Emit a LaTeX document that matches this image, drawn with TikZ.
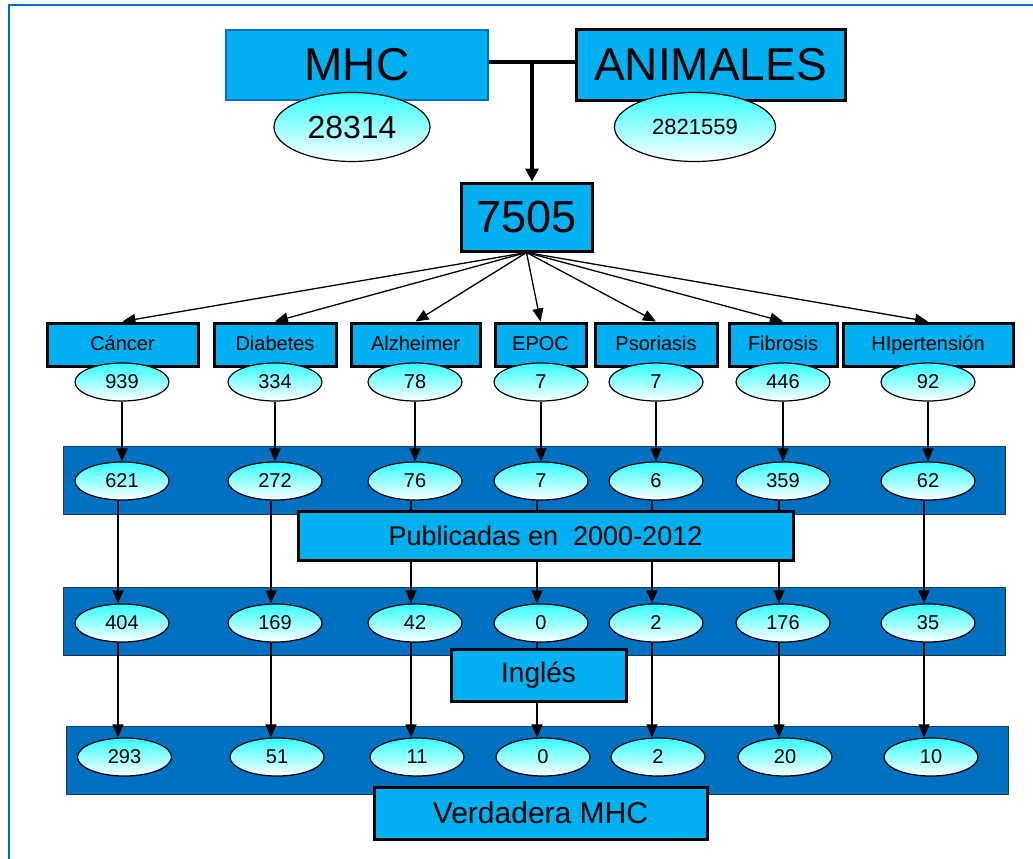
\documentclass[tikz,border=0pt]{standalone}
\usepackage{fontspec}
\setmainfont{Liberation Sans}
\usetikzlibrary{positioning,arrows.meta,shapes.geometric}
\definecolor{celeste}{HTML}{00B0F0}
\definecolor{azulOscuro}{HTML}{0070C0}
\definecolor{cian}{HTML}{33FFFF}
\definecolor{bordeBanda}{HTML}{1F3A5F}
\newcommand{\tam}[1]{\fontsize{#1}{#1}\selectfont}

\begin{document}
\begin{tikzpicture}[
        x=1pt, y=-1pt,
        caja/.style={rectangle, fill=celeste, draw=black, line width=3pt, inner sep=0pt, align=center},
        cajaMHC/.style={caja, draw=azulOscuro, line width=1.5pt, minimum width=262pt, minimum height=70pt, font=\tam{46}},
        cajaGrande/.style={caja, minimum height=70pt, font=\tam{46}},
        cajaEnf/.style={caja, minimum height=43pt, font=\tam{20}, text height=14.5pt, text depth=3pt},
        cajaFiltro/.style={caja, minimum height=52pt},
        elipse/.style={ellipse, draw=black, line width=1.2pt, top color=cian, bottom color=white, inner sep=0pt, minimum width=94pt, minimum height=38pt, font=\tam{20}},
        banda/.style={rectangle, fill=azulOscuro, draw=bordeBanda, line width=1pt, minimum width=942pt, minimum height=68pt},
        flecha/.style={-{Triangle[length=13pt, width=11pt]}, line width=1.3pt},
        marco/.style={draw=azulOscuro, line width=2.5pt}
    ]
        \useasboundingbox (0,0) rectangle (1033,859);
        \draw[marco] (9,859) -- (9,5) -- (1033,5);

        % Busqueda inicial
        \node[cajaMHC] (mhc) at (357,65) {MHC};
        \node[cajaGrande, minimum width=269pt] (animales) at (710.5,65) {ANIMALES};
        \node[elipse, minimum width=156pt, minimum height=69pt, font=\tam{32}] (nMHC) at (352,127) {28314};
        \node[elipse, minimum width=161pt, minimum height=69pt, font=\tam{22}] (nAnimales) at (695,127) {2821559};

        % Cruce de ambas busquedas
        \coordinate (cruce) at (532,62);
        \draw[line width=4pt] (mhc.east |- cruce) -- (animales.west |- cruce);
        \node[cajaGrande, minimum width=131pt, minimum height=68pt, font=\tam{45}] (total) at (526.5,217) {7505};
        \draw[-{Triangle[length=13pt, width=13pt]}, line width=4pt] (cruce) -- (cruce |- total.north);

        % Enfermedades
        \node[cajaEnf, minimum width=151pt] (cancer) at (122.5,344.5) {Cáncer};
        \node[cajaEnf, minimum width=122pt] (diabetes) at (275,344.5) {Diabetes};
        \node[cajaEnf, minimum width=129pt] (alzheimer) at (415.5,344.5) {Alzheimer};
        \node[cajaEnf, minimum width=91pt] (epoc) at (540.5,344.5) {EPOC};
        \node[cajaEnf, minimum width=122pt] (psoriasis) at (656,344.5) {Psoriasis};
        \node[cajaEnf, minimum width=108pt] (fibrosis) at (783,344.5) {Fibrosis};
        \node[cajaEnf, minimum width=170pt] (hipertension) at (928,344.5) {HIpertensión};

        \draw[flecha] (total.south) -- (cancer.north);
        \draw[flecha] (total.south) -- (diabetes.north);
        \draw[flecha] (total.south) -- (alzheimer.north);
        \draw[flecha] (total.south) -- (epoc.north);
        \draw[flecha] (total.south) -- (psoriasis.north);
        \draw[flecha] (total.south) -- (fibrosis.north);
        \draw[flecha] (total.south) -- (hipertension.north);

        % Bandas de filtros (fondo)
        \node[banda] (bandaPub) at (534,480) {};
        \node[banda] (bandaIng) at (534.5,621.5) {};
        \node[banda] (bandaVer) at (537,760.5) {};

        % Totales por enfermedad
        \node[elipse] (cancerTot) at (122,382) {939};
        \node[elipse] (diabetesTot) at (275,382) {334};
        \node[elipse] (alzheimerTot) at (415,382) {78};
        \node[elipse] (epocTot) at (541,382) {7};
        \node[elipse] (psoriasisTot) at (656,382) {7};
        \node[elipse] (fibrosisTot) at (783,382) {446};
        \node[elipse] (hipertensionTot) at (928,382) {92};

        % Publicadas en 2000-2012
        \node[elipse] (cancerPub) at (122,481) {621};
        \node[elipse] (diabetesPub) at (275,481) {272};
        \node[elipse] (alzheimerPub) at (415,481) {76};
        \node[elipse] (epocPub) at (541,481) {7};
        \node[elipse] (psoriasisPub) at (656,481) {6};
        \node[elipse] (fibrosisPub) at (783,481) {359};
        \node[elipse] (hipertensionPub) at (928,481) {62};

        % Ingles
        \node[elipse] (cancerIng) at (122,623) {404};
        \node[elipse] (diabetesIng) at (275,623) {169};
        \node[elipse] (alzheimerIng) at (415,623) {42};
        \node[elipse] (epocIng) at (541,623) {0};
        \node[elipse] (psoriasisIng) at (656,623) {2};
        \node[elipse] (fibrosisIng) at (783,623) {176};
        \node[elipse] (hipertensionIng) at (928,623) {35};

        % Verdadera MHC
        \node[elipse] (cancerVer) at (124.5,757) {293};
        \node[elipse] (diabetesVer) at (277,757) {51};
        \node[elipse] (alzheimerVer) at (417,757) {11};
        \node[elipse] (epocVer) at (543,757) {0};
        \node[elipse] (psoriasisVer) at (658,757) {2};
        \node[elipse] (fibrosisVer) at (785,757) {20};
        \node[elipse] (hipertensionVer) at (931,757) {10};

        % Conexiones entre filtros
        \draw[flecha] (cancerTot) -- (cancerPub);
        \draw[flecha] (diabetesTot) -- (diabetesPub);
        \draw[flecha] (alzheimerTot) -- (alzheimerPub);
        \draw[flecha] (epocTot) -- (epocPub);
        \draw[flecha] (psoriasisTot) -- (psoriasisPub);
        \draw[flecha] (fibrosisTot) -- (fibrosisPub);
        \draw[flecha] (hipertensionTot) -- (hipertensionPub);

        \draw[flecha] ([xshift=-4pt]cancerPub.south) -- ([xshift=-4pt]cancerIng.north);
        \draw[flecha] ([xshift=-4pt]diabetesPub.south) -- ([xshift=-4pt]diabetesIng.north);
        \draw[flecha] ([xshift=-4pt]alzheimerPub.south) -- ([xshift=-4pt]alzheimerIng.north);
        \draw[flecha] ([xshift=-4pt]epocPub.south) -- ([xshift=-4pt]epocIng.north);
        \draw[flecha] ([xshift=-4pt]psoriasisPub.south) -- ([xshift=-4pt]psoriasisIng.north);
        \draw[flecha] ([xshift=-4pt]fibrosisPub.south) -- ([xshift=-4pt]fibrosisIng.north);
        \draw[flecha] ([xshift=-4pt]hipertensionPub.south) -- ([xshift=-4pt]hipertensionIng.north);

        \draw[flecha] ([xshift=-4pt]cancerIng.south) -- ([xshift=-4pt]cancerIng.south |- cancerVer.north);
        \draw[flecha] ([xshift=-4pt]diabetesIng.south) -- ([xshift=-4pt]diabetesIng.south |- diabetesVer.north);
        \draw[flecha] ([xshift=-4pt]alzheimerIng.south) -- ([xshift=-4pt]alzheimerIng.south |- alzheimerVer.north);
        \draw[flecha] ([xshift=-4pt]epocIng.south) -- ([xshift=-4pt]epocIng.south |- epocVer.north);
        \draw[flecha] ([xshift=-4pt]psoriasisIng.south) -- ([xshift=-4pt]psoriasisIng.south |- psoriasisVer.north);
        \draw[flecha] ([xshift=-4pt]fibrosisIng.south) -- ([xshift=-4pt]fibrosisIng.south |- fibrosisVer.north);
        \draw[flecha] ([xshift=-4pt]hipertensionIng.south) -- ([xshift=-4pt]hipertensionIng.south |- hipertensionVer.north);

        % Etiquetas de los filtros
        \node[cajaFiltro, minimum width=495pt, minimum height=49pt, font=\tam{27}] (publicadas) at (545.5,535.5) {Publicadas en\ \ 2000-2012};
        \node[cajaFiltro, minimum width=175pt, font=\tam{28}, text height=20pt, text depth=6pt] (ingles) at (538.5,675) {Inglés};
        \node[cajaFiltro, minimum width=333pt, font=\tam{30}] (verdadera) at (540.5,813) {Verdadera MHC};
    \end{tikzpicture}
\end{document}
